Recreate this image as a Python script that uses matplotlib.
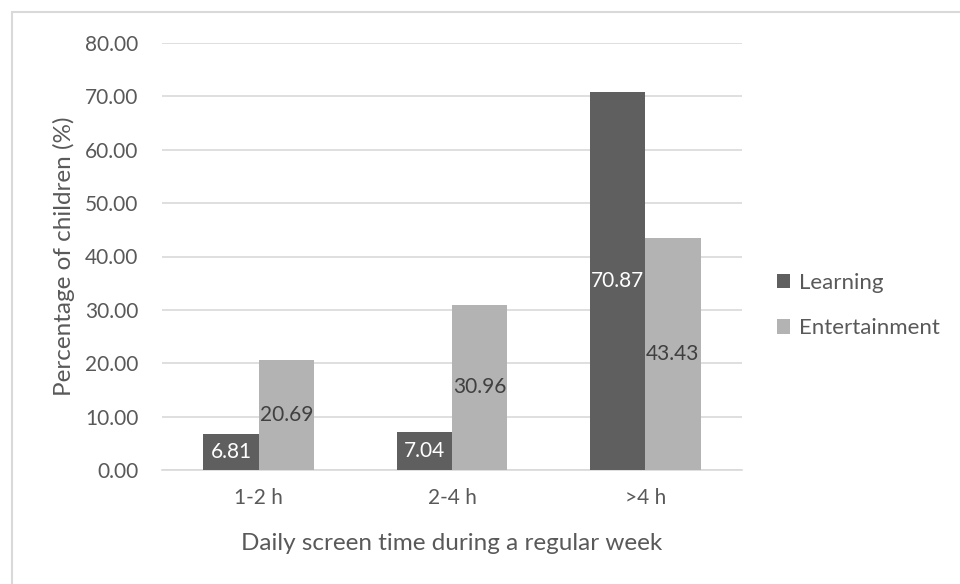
import matplotlib
matplotlib.use("Agg")
import matplotlib.pyplot as plt
import numpy as np
from matplotlib.patches import Rectangle

plt.rcParams['font.family'] = ['Lato', 'DejaVu Sans']

categories = ["1-2 h", "2-4 h", ">4 h"]
learning = [6.81, 7.04, 70.87]
entertainment = [20.69, 30.96, 43.43]
yticks = [0, 10, 20, 30, 40, 50, 60, 70, 80]

dark = "#5f5f5f"
light = "#b3b3b3"
text_col = "#595959"

fig = plt.figure(figsize=(9.6, 5.84), dpi=100)
fig.patch.set_facecolor("white")

# chart-area frame
fig.patches.append(Rectangle((11.5 / 960, -0.1), 1.1, (584 - 11.5) / 584 + 0.1,
                             transform=fig.transFigure, fill=False,
                             edgecolor="#d9d9d9", linewidth=1.5, zorder=0))

ax = fig.add_axes([162 / 960, 114 / 584, 580 / 960, 427 / 584])
x = np.arange(len(categories))
w = 1 / 3.5

b1 = ax.bar(x - w / 2, learning, width=w, color=dark, label="Learning", zorder=3)
b2 = ax.bar(x + w / 2, entertainment, width=w, color=light, label="Entertainment",
            zorder=3)

ax.bar_label(b1, labels=[f"{v:.2f}" for v in learning], label_type="center",
             color="white", fontsize=15)
ax.bar_label(b2, labels=[f"{v:.2f}" for v in entertainment], label_type="center",
             color="#404040", fontsize=15)

ax.set_xlim(-0.5, len(categories) - 0.5)
ax.set_ylim(0, 80)
ax.set_yticks(yticks)
ax.set_yticklabels([f"{v:.2f}" for v in yticks])
ax.set_xticks(x)
ax.set_xticklabels(categories)
ax.yaxis.grid(True, color="#d9d9d9", linewidth=1.2, zorder=0)
ax.set_axisbelow(True)
for s in ["top", "right", "left"]:
    ax.spines[s].set_visible(False)
ax.spines["bottom"].set_color("#d9d9d9")
ax.spines["bottom"].set_linewidth(1.2)
ax.tick_params(axis="both", length=0, colors=text_col, labelsize=15)
ax.tick_params(axis="y", pad=17)
ax.tick_params(axis="x", pad=13)

ax.set_ylabel("Percentage of children (%)", fontsize=17.5, color=text_col, labelpad=7)
ax.set_xlabel("Daily screen time during a regular week", fontsize=17.5,
              color=text_col, labelpad=18)

leg = ax.legend(loc="center left", bbox_to_anchor=(1.025, 0.385), frameon=False,
                fontsize=16, labelcolor=text_col, handlelength=0.6,
                handleheight=0.6, handletextpad=0.4, labelspacing=1.15)

fig.savefig("out.png", dpi=100)
